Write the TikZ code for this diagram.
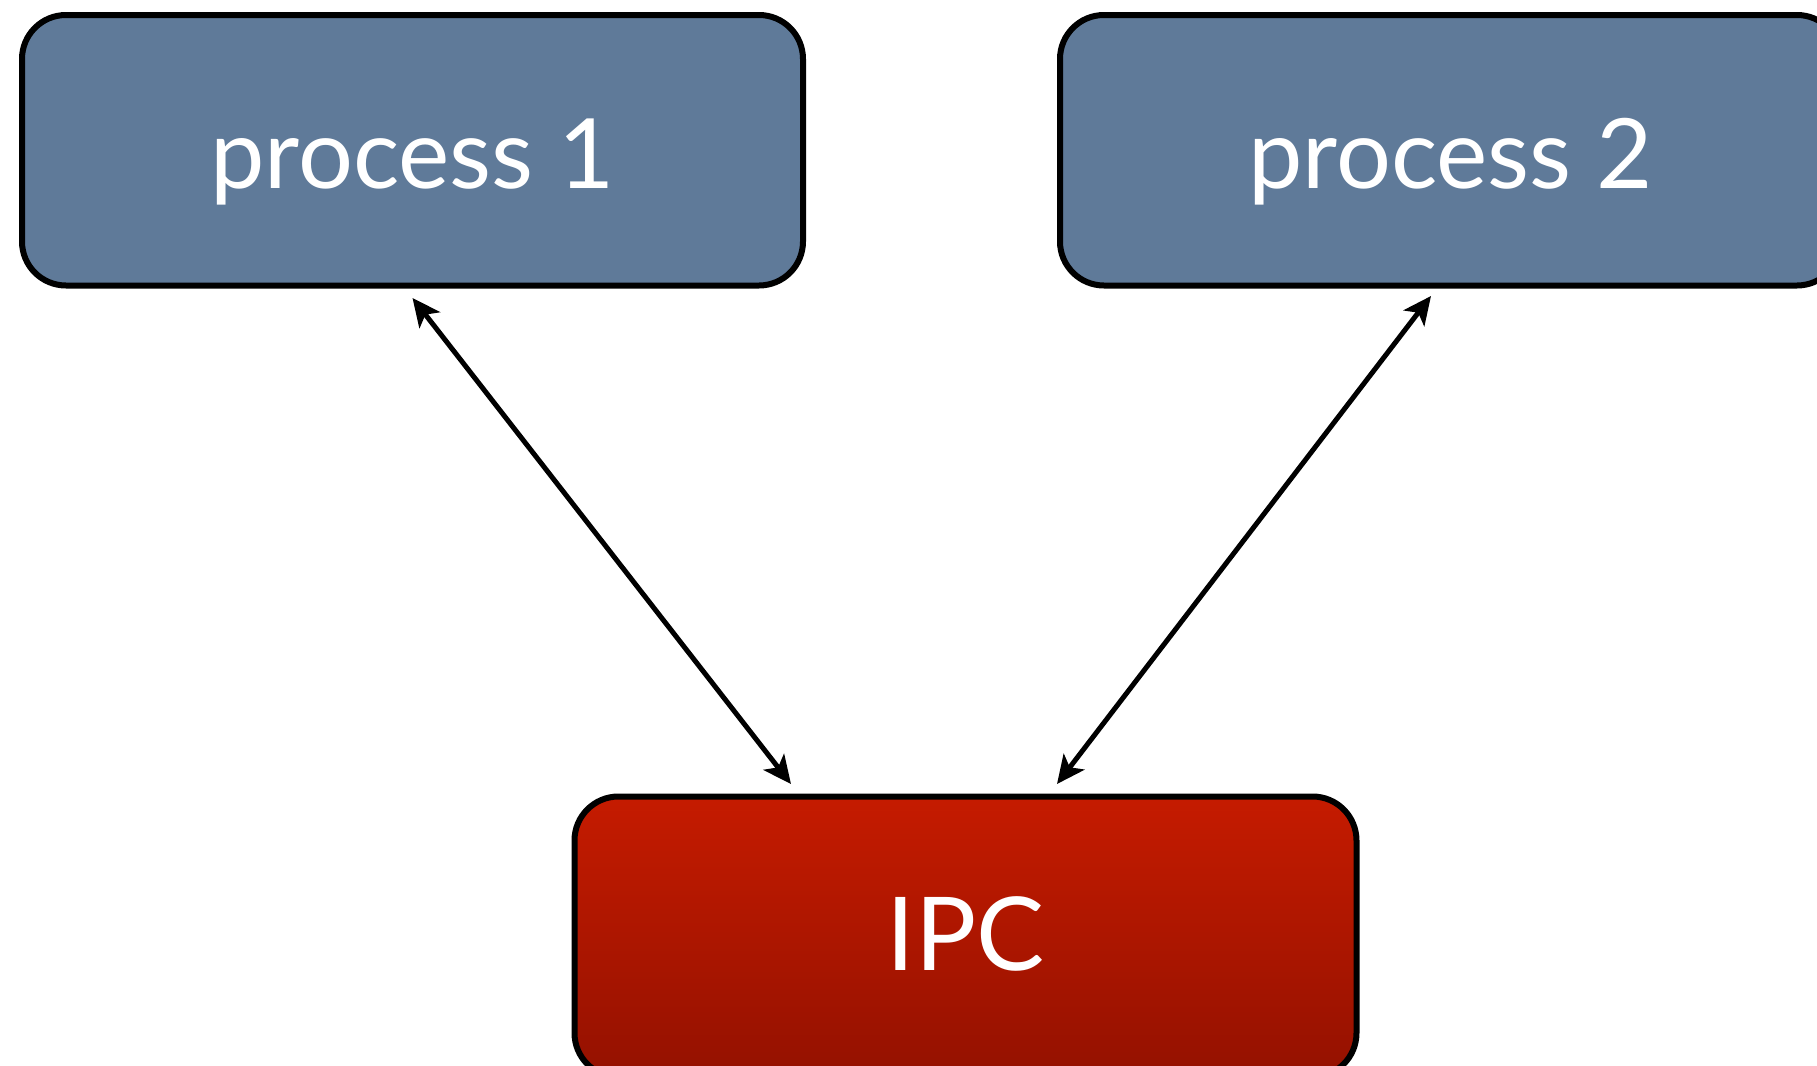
\documentclass[tikz,border=0pt]{standalone}
\usepackage{fontspec}
\setmainfont{Lato}
\usetikzlibrary{arrows.meta}
\definecolor{procblue}{RGB}{95,122,153}
\definecolor{ipctop}{RGB}{197,27,0}
\definecolor{ipcbot}{RGB}{148,17,0}
\begin{document}
\begin{tikzpicture}[x=0.5pt,y=-0.5pt,
 procbox/.style={draw=black, line width=3pt, rounded corners=22pt, fill=procblue,
   minimum width=390.5pt, minimum height=135.25pt, inner sep=0pt, text=white,
   font=\fontsize{48.5pt}{52pt}\selectfont, text height=38pt, text depth=0pt},
 ipcbox/.style={draw=black, line width=3pt, rounded corners=22pt, top color=ipctop, bottom color=ipcbot,
   minimum width=391pt, minimum height=140.25pt, inner sep=0pt, text=white,
   font=\fontsize{51pt}{54pt}\selectfont, text height=33.25pt, text depth=0pt},
 conn/.style={line width=2.5pt, {Stealth[length=14pt,width=13pt,inset=3.5pt]}-{Stealth[length=14pt,width=13pt,inset=3.5pt]}}
]
\clip (0,0) rectangle (1817,1066);
\node[procbox] (p1) at (412.5,150.25) {process 1};
\node[procbox] (p2) at (1450.5,150.25) {process 2};
\node[ipcbox] (ipc) at (965.5,936.75) {IPC};
\draw[conn] ([yshift=-4.75pt]p1.south) -- ([xshift=-87.25pt,yshift=4.75pt]ipc.north);
\draw[conn] ([xshift=-9.75pt,yshift=-3.75pt]p2.south) -- ([xshift=45.75pt,yshift=4.75pt]ipc.north);
\end{tikzpicture}
\end{document}
